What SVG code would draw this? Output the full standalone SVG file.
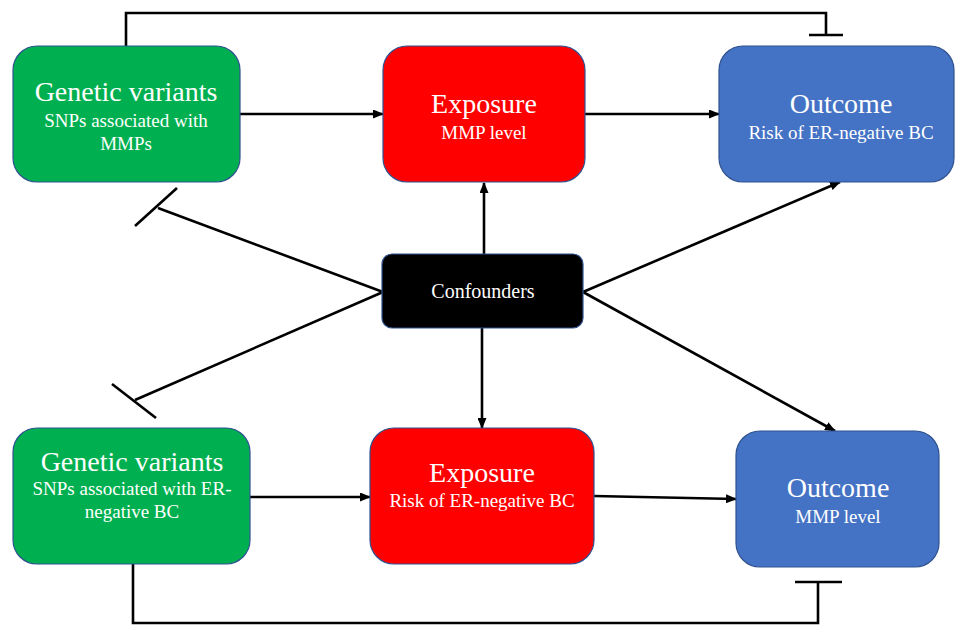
<svg xmlns="http://www.w3.org/2000/svg" width="956" height="625" viewBox="0 0 956 625">
<style>
.box{stroke:#2F528F;stroke-width:1.2}
.g{fill:#00B050}.r{fill:#FF0000}.b{fill:#4472C4}.k{fill:#000000}
text{font-family:"Liberation Serif","Times New Roman",serif;fill:#FFFFFF;text-anchor:middle}
.t{font-size:28px}.s{font-size:19px}.c{font-size:20px}
.ln{stroke:#000;stroke-width:2.6;fill:none}
</style>
<defs>
<marker id="ah" markerUnits="userSpaceOnUse" markerWidth="11" markerHeight="9" refX="10" refY="4.5" orient="auto">
<path d="M0,0 L11,4.5 L0,9 z" fill="#000"/>
</marker>
</defs>
<rect width="956" height="625" fill="#FFFFFF"/>
<g id="connectors">
<polyline class="ln" points="126,46 126,13 826,13 826,35"/>
<line class="ln" x1="809" y1="35" x2="843" y2="35"/>
<line class="ln" x1="240" y1="114" x2="383" y2="114" marker-end="url(#ah)"/>
<line class="ln" x1="585" y1="114" x2="719" y2="114" marker-end="url(#ah)"/>
<line class="ln" x1="383" y1="292" x2="158" y2="208"/>
<line class="ln" x1="135" y1="226" x2="177" y2="188"/>
<line class="ln" x1="383" y1="292" x2="135" y2="400"/>
<line class="ln" x1="112" y1="384" x2="156" y2="418"/>
<line class="ln" x1="484" y1="254" x2="484" y2="183" marker-end="url(#ah)"/>
<line class="ln" x1="482" y1="328" x2="482" y2="428" marker-end="url(#ah)"/>
<line class="ln" x1="583" y1="292" x2="840" y2="182" marker-end="url(#ah)"/>
<line class="ln" x1="583" y1="292" x2="835" y2="431" marker-end="url(#ah)"/>
<line class="ln" x1="250" y1="497" x2="370" y2="497" marker-end="url(#ah)"/>
<line class="ln" x1="594" y1="496" x2="736" y2="499" marker-end="url(#ah)"/>
<polyline class="ln" points="133,564 133,623 818,623 818,582"/>
<line class="ln" x1="795" y1="582" x2="842" y2="582"/>
</g>
<g id="gv-top">
<rect class="box g" x="13" y="46" width="227" height="136" rx="24"/>
<text class="t" x="126" y="101">Genetic variants</text>
<text class="s" x="126" y="127">SNPs associated with</text>
<text class="s" x="126" y="150">MMPs</text>
</g>
<g id="exp-top">
<rect class="box r" x="383" y="46" width="202" height="136" rx="24"/>
<text class="t" x="484" y="113">Exposure</text>
<text class="s" x="484" y="139">MMP level</text>
</g>
<g id="out-top">
<rect class="box b" x="719" y="46" width="235" height="136" rx="24"/>
<text class="t" x="841" y="113">Outcome</text>
<text class="s" x="841" y="139">Risk of ER-negative BC</text>
</g>
<g id="confounders">
<rect class="box k" x="382" y="254" width="201" height="74" rx="10"/>
<text class="c" x="483" y="298">Confounders</text>
</g>
<g id="gv-bottom">
<rect class="box g" x="13" y="428" width="237" height="136" rx="24"/>
<text class="t" x="132" y="471">Genetic variants</text>
<text class="s" x="132" y="495">SNPs associated with ER-</text>
<text class="s" x="132" y="518">negative BC</text>
</g>
<g id="exp-bottom">
<rect class="box r" x="370" y="428" width="224" height="136" rx="24"/>
<text class="t" x="482" y="482">Exposure</text>
<text class="s" x="482" y="507">Risk of ER-negative BC</text>
</g>
<g id="out-bottom">
<rect class="box b" x="736" y="431" width="203" height="136" rx="24"/>
<text class="t" x="838" y="497">Outcome</text>
<text class="s" x="838" y="523">MMP level</text>
</g>
</svg>
